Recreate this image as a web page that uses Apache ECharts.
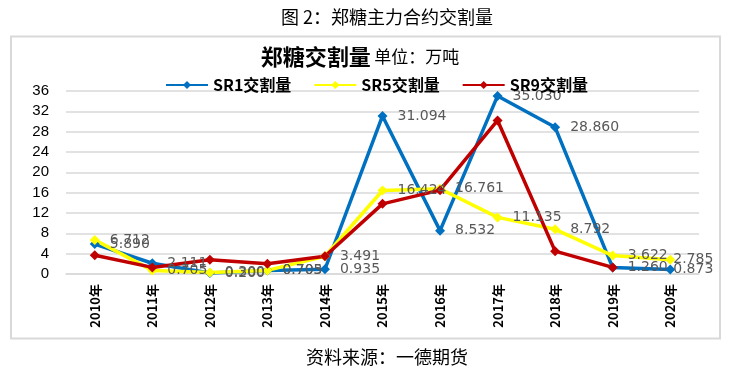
<!DOCTYPE html>
<html><head><meta charset="utf-8">
<script src="https://cdn.jsdelivr.net/npm/echarts@6/dist/echarts.min.js"></script>
<style>html,body{margin:0;padding:0;background:#fff}#c{width:732px;height:375px}</style>
</head><body><div id="c"></div>
<script>
const categories = ['2010年','2011年','2012年','2013年','2014年','2015年','2016年','2017年','2018年','2019年','2020年'];
const sr1 = [5.890, 2.111, 0.200, 0.703, 0.935, 31.094, 8.532, 35.030, 28.860, 1.260, 0.873];
const sr5 = [6.712, 0.705, 0.300, 0.705, 3.491, 16.424, 16.761, 11.135, 8.792, 3.622, 2.785];
const sr9 = [3.7, 1.3, 2.8, 2.0, 3.5, 13.8, 16.5, 30.2, 4.5, 1.3, null];
const yTicks = [0, 4, 8, 12, 16, 20, 24, 28, 32, 36];

const CJK = '"Noto Sans CJK SC", "Noto Sans", sans-serif';
const chart = echarts.init(document.getElementById('c'));
const lbl = {show: true, position: 'right', distance: 10, color: '#595959', fontSize: 14, fontFamily: 'DejaVu Sans', formatter: p => p.value == null ? '' : Number(p.value).toFixed(3)};
function withLastLabelShift(arr) {
  const last = arr.length - 1;
  return arr.map((v, i) => i === last ? {value: v, label: {offset: [-12, 0]}} : v);
}
function mk(name, data, color, label) {
  return {name, type: 'line', data: label ? withLastLabelShift(data) : data, symbol: 'diamond', symbolSize: 10,
    lineStyle: {color, width: 3.5}, itemStyle: {color},
    label: label ? lbl : {show: false}, connectNulls: false, z: 2};
}
chart.setOption({
  animation: false,
  backgroundColor: '#fff',
  graphic: [
    {type: 'rect', shape: {x: 11, y: 36.5, width: 709, height: 302}, style: {fill: 'none', stroke: '#d9d9d9', lineWidth: 2}},
    {type: 'text', x: 387, y: 17, style: {text: '图 2：郑糖主力合约交割量', font: '18px ' + CJK, fill: '#000', align: 'center', verticalAlign: 'middle'}},
    {type: 'text', x: 387, y: 357, style: {text: '资料来源：一德期货', font: '18px ' + CJK, fill: '#000', align: 'center', verticalAlign: 'middle'}},
    {type: 'text', x: 360, y: 57, style: {
      text: '{a|郑糖交割量} {b|单位：万吨}', align: 'center', verticalAlign: 'middle',
      rich: {a: {fontSize: 22, fontWeight: 'bold', fontFamily: CJK, fill: '#000'}, b: {fontSize: 17, fontWeight: 'normal', fontFamily: CJK, fill: '#000'}}}}
  ],
  legend: {
    top: 72, left: 160, itemWidth: 42, itemHeight: 10, itemGap: 22,
    textStyle: {fontSize: 16, fontWeight: 'bold', fontFamily: CJK, color: '#000'},
    data: ['SR1交割量', 'SR5交割量', 'SR9交割量']
  },
  grid: {left: 66, right: 33, top: 91, bottom: 101, containLabel: false},
  xAxis: {
    type: 'category', data: categories, boundaryGap: true,
    axisLine: {show: true, lineStyle: {color: '#d9d9d9', width: 1.5}}, axisTick: {show: false},
    axisLabel: {rotate: 90, fontSize: 13, fontWeight: 'bold', fontFamily: CJK, color: '#000', margin: 10, interval: 0}
  },
  yAxis: {
    type: 'value', min: 0, max: 36, interval: 4,
    axisLine: {show: false}, axisTick: {show: false},
    splitLine: {lineStyle: {color: '#d9d9d9', width: 1.5}},
    axisLabel: {fontSize: 15, fontFamily: 'Liberation Sans', color: '#000', margin: 17, formatter: v => yTicks.includes(v) ? String(v) : ''}
  },
  series: [
    mk('SR1交割量', sr1, '#0070C0', true),
    mk('SR5交割量', sr5, '#FFFF00', true),
    mk('SR9交割量', sr9, '#C00000', false)
  ]
});
</script></body></html>
